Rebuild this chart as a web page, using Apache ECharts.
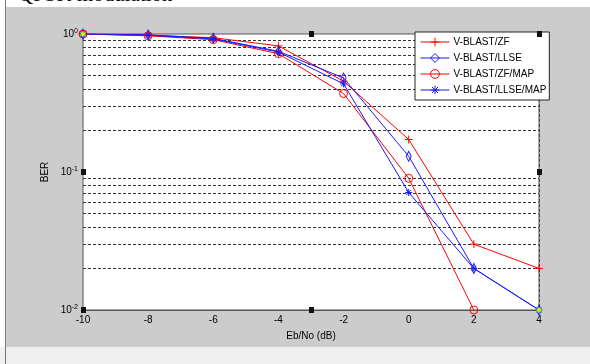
<!DOCTYPE html>
<html><head><meta charset="utf-8">
<script src="https://cdn.jsdelivr.net/npm/echarts@6/dist/echarts.min.js"></script>
<style>html,body{margin:0;padding:0;background:#fff}#c{width:590px;height:364px}</style>
</head><body><div id="c"></div>
<script>
// ---- data ----
const ebno = [-10, -8, -6, -4, -2, 0, 2, 4];
const berZF = [1, 0.98, 0.94, 0.82, 0.455, 0.172, 0.030, 0.020];
const berLLSE = [1, 0.985, 0.93, 0.75, 0.48, 0.13, 0.020, 0.010];
const berZFMAP = [1, 0.97, 0.91, 0.72, 0.37, 0.09, 0.010];
const berLLSEMAP = [1, 0.98, 0.92, 0.74, 0.435, 0.071, 0.020, 0.010];
const seriesNames = ['V-BLAST/ZF', 'V-BLAST/LLSE', 'V-BLAST/ZF/MAP', 'V-BLAST/LLSE/MAP'];
const xTicks = [-10, -8, -6, -4, -2, 0, 2, 4];
const yDecades = [0.01, 0.1, 1];
const titleText = 'QPSK modulation';
const xLabel = 'Eb/No (dB)';
const yLabel = 'BER';

const RED = '#ff0000', BLUE = '#1a1aff';
const FONT = 'Liberation Sans, Arial, sans-serif';
const pair = (ys) => ys.map((v, i) => [ebno[i], v]);

// minor log grid values (2..9 x decade)
const minorVals = [];
for (let d = 0; d < yDecades.length - 1; d++) {
  for (let k = 2; k <= 9; k++) minorVals.push(+(yDecades[d] * k).toPrecision(3));
}

const PLUS = 'path://M0,4L8,4M4,0L4,8';
const STAR = 'path://M4,0L4,8M0,4L8,4M1.2,1.2L6.8,6.8M6.8,1.2L1.2,6.8';
const CIRC = 'path://M0,4A4,4,0,1,1,8,4A4,4,0,1,1,0,4Z';
const DIAM = 'path://M4,0L8,5.5L4,11L0,5.5Z';

function mk(name, ys, color, symbol, size, hollow) {
  return {
    name, type: 'line', data: pair(ys),
    symbol, symbolSize: size, symbolKeepAspect: true,
    lineStyle: { width: 1, color },
    itemStyle: { color: hollow ? 'rgba(255,255,255,0)' : color, borderColor: color, borderWidth: 1 },
    emphasis: { disabled: true }, animation: false, z: 5
  };
}

const chart = echarts.init(document.getElementById('c'), null, { renderer: 'canvas' });
const option = {
  backgroundColor: '#ffffff',
  animation: false,
  textStyle: { fontFamily: FONT },
  grid: { left: 83, right: 51, top: 34, bottom: 54, show: true, backgroundColor: '#ffffff', borderColor: '#555555', borderWidth: 1, z: 1 },
  legend: {
    data: seriesNames,
    orient: 'vertical', left: 415, top: 32,
    backgroundColor: '#ffffff', borderColor: '#222222', borderWidth: 1,
    padding: [5, 3, 5, 5], itemGap: 6, itemWidth: 29, itemHeight: 11,
    lineStyle: { width: 1 },
    itemStyle: { borderWidth: 1 },
    textStyle: { fontSize: 10, color: '#000', fontFamily: FONT, padding: [0, 0, 0, -1] },
    z: 10
  },
  xAxis: {
    type: 'value', min: -10, max: 4, interval: 2,
    name: xLabel, nameLocation: 'middle', nameGap: 21,
    nameTextStyle: { fontSize: 10, color: '#000', fontFamily: FONT },
    axisLine: { show: true, lineStyle: { color: '#555555' } },
    axisTick: { show: false },
    axisLabel: { fontSize: 10, color: '#000', margin: 5, fontFamily: FONT },
    splitLine: { show: true, lineStyle: { color: '#333', type: [3, 2], width: 1 } }
  },
  yAxis: {
    type: 'log', logBase: 10, min: 0.01, max: 1,
    name: yLabel, nameLocation: 'middle', nameGap: 33, nameRotate: 90,
    nameTextStyle: { fontSize: 10, color: '#000', fontFamily: FONT },
    axisLine: { show: true, lineStyle: { color: '#555555' } },
    axisTick: { show: false },
    axisLabel: {
      margin: 5, color: '#000', fontFamily: FONT,
      formatter: (v) => '{b|10}{s|' + Math.round(Math.log10(v)) + '}',
      rich: {
        b: { fontSize: 10, color: '#000', fontFamily: FONT },
        s: { fontSize: 7, color: '#000', fontFamily: FONT, verticalAlign: 'top', padding: [0, 0, 6, 0] }
      }
    },
    splitLine: { show: true, lineStyle: { color: '#333', type: [3, 2], width: 1 } }
  },
  series: [
    mk(seriesNames[0], berZF, RED, PLUS, 8, false),
    mk(seriesNames[1], berLLSE, BLUE, DIAM, [7, 10], true),
    mk(seriesNames[2], berZFMAP, RED, CIRC, 8, true),
    mk(seriesNames[3], berLLSEMAP, BLUE, STAR, 7, false),
    {
      name: '_minor', type: 'line', data: [], silent: true, z: 2,
      markLine: {
        silent: true, symbol: 'none', animation: false,
        label: { show: false },
        lineStyle: { color: '#333', type: [3, 2], width: 1 },
        data: minorVals.map(v => ({ yAxis: v }))
      }
    }
  ],
  graphic: [
    { type: 'rect', z: -10, silent: true, shape: { x: 0, y: 347, width: 590, height: 17 }, style: { fill: '#f0f0f0' } },
    { type: 'rect', z: -9, silent: true, shape: { x: 5, y: 7, width: 585, height: 340 }, style: { fill: '#cccccc' } },
    { type: 'line', z: -8, silent: true, shape: { x1: 5.5, y1: 0, x2: 5.5, y2: 364 }, style: { stroke: '#777', lineWidth: 1 } },
    { type: 'text', z: -7, silent: true, left: 18, top: -15, style: { text: titleText, font: '21px "Liberation Serif", "Times New Roman", serif', fill: '#000' } }
  ]
};
chart.setOption(option);

// MATLAB edit-mode handles on the axes box
const tl = chart.convertToPixel({ gridIndex: 0 }, [-10, 1]);
const br = chart.convertToPixel({ gridIndex: 0 }, [4, 0.01]);
const midX = (tl[0] + br[0]) / 2, midY = (tl[1] + br[1]) / 2;
const handles = [[midX, tl[1]], [br[0], tl[1]], [tl[0], midY], [br[0], midY], [tl[0], br[1]], [midX, br[1]]];
const extra = handles.map(p => ({ type: 'rect', z: 20, silent: true, shape: { x: Math.round(p[0]) - 2, y: Math.round(p[1]) - 3, width: 5, height: 6 }, style: { fill: '#111' } }));
extra.push({ type: 'circle', z: 20, silent: true, shape: { cx: tl[0], cy: tl[1], r: 2.5 }, style: { fill: '#e8e800', stroke: '#3cb371', lineWidth: 1 } });
extra.push({ type: 'circle', z: 20, silent: true, shape: { cx: br[0], cy: br[1], r: 2.5 }, style: { fill: '#e8e800', stroke: '#3cb371', lineWidth: 1 } });
chart.setOption({ graphic: option.graphic.concat(extra) });
</script>
</body></html>
